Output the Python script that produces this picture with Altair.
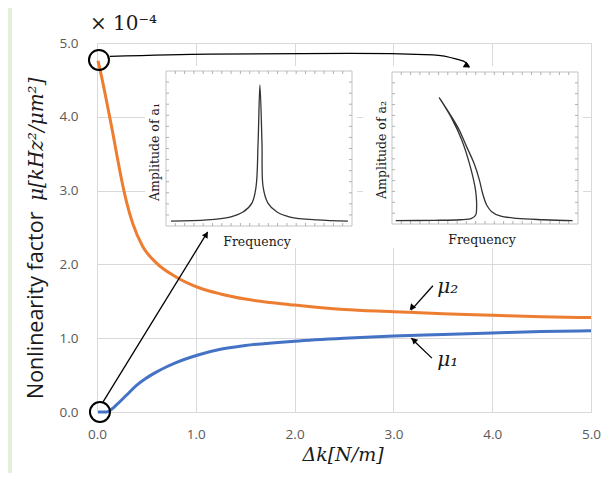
import altair as alt
import pandas as pd

# ---------------- data ----------------
dk_mu2 = [0.01, 0.05, 0.10, 0.15, 0.20, 0.25, 0.30, 0.36, 0.46, 0.60, 0.80, 1.04, 1.25, 1.50, 2.00, 2.50, 3.00, 3.50, 4.00, 4.50, 5.00]
mu2 = [4.76, 4.52, 4.19, 3.85, 3.49, 3.14, 2.84, 2.56, 2.25, 2.02, 1.83, 1.68, 1.60, 1.53, 1.45, 1.39, 1.36, 1.33, 1.31, 1.29, 1.28]
dk_mu1 = [0.01, 0.10, 0.15, 0.20, 0.30, 0.40, 0.50, 0.60, 0.70, 0.80, 1.04, 1.25, 1.50, 2.00, 2.50, 3.00, 3.50, 4.00, 4.50, 5.00]
mu1 = [0.00, 0.00, 0.04, 0.10, 0.23, 0.36, 0.46, 0.54, 0.61, 0.67, 0.78, 0.85, 0.90, 0.96, 1.00, 1.03, 1.05, 1.07, 1.09, 1.10]

axis_ticks = [0, 1, 2, 3, 4, 5]

# inset 1: linear resonance (frequency / amplitude, arbitrary units 0-10)
f1 = [0.27, 2.20, 3.44, 4.14, 4.62, 4.84, 4.95, 5.05, 5.16, 5.22, 5.48, 5.97, 6.67, 8.12, 9.78]
a1 = [0.32, 0.39, 0.58, 0.90, 1.48, 2.52, 5.35, 9.10, 5.35, 2.52, 1.48, 0.90, 0.58, 0.39, 0.32]
# inset 2: softening nonlinear resonance (traced as one path)
f2 = [0.20, 2.22, 3.66, 4.28, 4.50, 4.55, 4.53, 4.46, 4.16, 3.75, 3.21, 2.54,
      3.03, 3.57, 4.01, 4.41, 4.70, 4.87, 5.09, 5.36, 5.81, 6.70, 8.13, 9.71]
a2 = [0.22, 0.24, 0.28, 0.37, 0.59, 1.14, 1.80, 2.46, 3.99, 5.53, 6.95, 8.31,
      7.39, 6.29, 5.09, 3.99, 2.89, 2.02, 1.25, 0.81, 0.53, 0.37, 0.28, 0.22]

# annotations (in main-axis units)
circle_x = [0.02, 0.03]
circle_y = [4.77, 0.00]
arrow_id = ["top"] * 7 + ["bottom"] * 2 + ["m2"] * 2 + ["m1"] * 2
arrow_x = [0.13, 1.14, 2.56, 3.40, 3.64, 3.74, 3.77, 0.06, 1.12, 3.40, 3.18, 3.39, 3.18]
arrow_y = [4.82, 4.85, 4.86, 4.84, 4.78, 4.73, 4.67, 0.135, 2.44, 1.71, 1.38, 0.73, 1.00]
head_x = [3.745, 1.106, 3.185, 3.206]
head_y = [4.69, 2.405, 1.413, 0.974]
head_angle = [122, 32, 221, 315]
mu_labels = ["μ₂", "μ₁"]
mu_label_x = [3.55, 3.55]
mu_label_y = [1.69, 0.70]

# ---------------- layout ----------------
W, H = 494, 369
ORANGE, BLUE = "#ED7D31", "#4472C4"
GRID = "#d9d9d9"
LBL = "#595959"

curves = pd.DataFrame({
    "dk": dk_mu2 + dk_mu1,
    "mu": mu2 + mu1,
    "series": ["mu2"] * len(mu2) + ["mu1"] * len(mu1),
})

xs = alt.Scale(domain=[0, 5], nice=False, zero=False)
ys = alt.Scale(domain=[0, 5], nice=False, zero=False)

axis_common = dict(values=axis_ticks, format=".1f", grid=True, gridColor=GRID, gridWidth=1,
                   domain=False, ticks=False, tickSize=0, title=None, labelFlush=False,
                   labelColor=LBL, labelFontSize=13.5, labelFont="Open Sans")

lines = alt.Chart(curves).mark_line(strokeWidth=3, interpolate="monotone").encode(
    x=alt.X("dk:Q", scale=xs, axis=alt.Axis(labelPadding=15, **axis_common)),
    y=alt.Y("mu:Q", scale=ys, axis=alt.Axis(labelPadding=19, **axis_common)),
    color=alt.Color("series:N", scale=alt.Scale(domain=["mu2", "mu1"], range=[ORANGE, BLUE]), legend=None),
)

one = pd.DataFrame({"t": ["x"]})

green = alt.Chart(one).mark_rect(fill="#E2EFD9").encode(
    x=alt.value(-89), x2=alt.value(-85), y=alt.value(-35), y2=alt.value(430))

ytitle1 = alt.Chart(pd.DataFrame({"t": ["Nonlinearity factor"]})).mark_text(
    angle=270, align="left", baseline="middle", font="Open Sans", fontSize=21.5, color="#1a1a1a"
).encode(x=alt.value(-60), y=alt.value(356), text="t:N")
ytitle2 = alt.Chart(pd.DataFrame({"t": ["μ[kHz²/μm²]"]})).mark_text(
    angle=270, align="left", baseline="middle", font="DejaVu Serif", fontStyle="italic", fontSize=20, color="#1a1a1a"
).encode(x=alt.value(-60), y=alt.value(158), text="t:N")
exp_txt = alt.Chart(pd.DataFrame({"t": ["× 10⁻⁴"]})).mark_text(
    align="left", baseline="middle", font="DejaVu Serif", fontSize=20, color="#1a1a1a"
).encode(x=alt.value(-7), y=alt.value(-19), text="t:N")
xtitle = alt.Chart(pd.DataFrame({"t": ["Δk[N/m]"]})).mark_text(
    align="center", baseline="middle", font="DejaVu Serif", fontStyle="italic", fontSize=19, color="#1a1a1a"
).encode(x=alt.value(246), y=alt.value(412), text="t:N")

main = alt.layer(green, lines, ytitle1, ytitle2, exp_txt, xtitle)


def inset(fvals, avals, ylabel, box, bg, ypos, xpos):
    x0, y0, x1, y1 = box
    fs = alt.Scale(domain=[0, 10], range=[x0, x1], nice=False, zero=False)
    as_ = alt.Scale(domain=[0, 10], range=[y1, y0], nice=False, zero=False)
    bgrect = alt.Chart(one).mark_rect(fill="white").encode(
        x=alt.value(bg[0]), x2=alt.value(bg[2]), y=alt.value(bg[1]), y2=alt.value(bg[3]))
    frame = alt.Chart(one).mark_rect(fill="white", stroke="#c4c4c4", strokeWidth=1).encode(
        x=alt.value(x0), x2=alt.value(x1), y=alt.value(y0), y2=alt.value(y1))
    ftk = pd.DataFrame({"f": [i * 0.5 for i in range(1, 20)]})
    atk = pd.DataFrame({"a": [i * 10 / 14 for i in range(1, 14)]})
    tk = dict(color="#b0b0b0", strokeWidth=1)
    t_b = alt.Chart(ftk).mark_rule(**tk).encode(
        x=alt.X("f:Q", scale=fs, axis=None), y=alt.value(y1), y2=alt.value(y1 - 3))
    t_t = alt.Chart(ftk).mark_rule(**tk).encode(
        x=alt.X("f:Q", scale=fs, axis=None), y=alt.value(y0), y2=alt.value(y0 + 3))
    t_l = alt.Chart(atk).mark_rule(**tk).encode(
        y=alt.Y("a:Q", scale=as_, axis=None), x=alt.value(x0), x2=alt.value(x0 + 3))
    t_r = alt.Chart(atk).mark_rule(**tk).encode(
        y=alt.Y("a:Q", scale=as_, axis=None), x=alt.value(x1), x2=alt.value(x1 - 3))
    df = pd.DataFrame({"f": fvals, "a": avals, "i": list(range(len(fvals)))})
    curve = alt.Chart(df).mark_line(color="#333333", strokeWidth=1.3, interpolate="catmull-rom").encode(
        x=alt.X("f:Q", scale=fs, axis=None),
        y=alt.Y("a:Q", scale=as_, axis=None),
        order="i:Q",
    )
    ylab = alt.Chart(pd.DataFrame({"t": [ylabel]})).mark_text(
        angle=270, align="center", baseline="middle", font="DejaVu Serif", fontSize=12.5, color="#1a1a1a"
    ).encode(x=alt.value(ypos[0]), y=alt.value(ypos[1]), text="t:N")
    xlab = alt.Chart(pd.DataFrame({"t": ["Frequency"]})).mark_text(
        align="center", baseline="middle", font="DejaVu Serif", fontSize=12.5, color="#1a1a1a"
    ).encode(x=alt.value(xpos[0]), y=alt.value(xpos[1]), text="t:N")
    return alt.layer(bgrect, frame, t_b, t_t, t_l, t_r, curve, ylab, xlab)


inset1 = inset(f1, a1, "Amplitude of a₁", (69, 28, 255, 183), (48, 23, 260, 205), (58, 109), (160, 199))
inset2 = inset(f2, a2, "Amplitude of a₂", (295, 29, 481, 181), (266, 23, 486, 205), (285, 107), (385, 197))

# annotations on top (same units as the main axes)
axs = alt.Scale(domain=[0, 5], nice=False, zero=False)
ays = alt.Scale(domain=[0, 5], nice=False, zero=False)

circ = alt.Chart(pd.DataFrame({"x": circle_x, "y": circle_y})).mark_point(
    shape="circle", size=400, filled=False, stroke="black", strokeWidth=2, opacity=1
).encode(x=alt.X("x:Q", scale=axs, axis=None), y=alt.Y("y:Q", scale=ays, axis=None))

arr_df = pd.DataFrame({"x": arrow_x, "y": arrow_y, "id": arrow_id, "o": list(range(len(arrow_x)))})
arr = alt.Chart(arr_df).mark_line(color="black", strokeWidth=1.3, interpolate="monotone").encode(
    x=alt.X("x:Q", scale=axs, axis=None), y=alt.Y("y:Q", scale=ays, axis=None),
    detail="id:N", order="o:Q")

heads = alt.Chart(pd.DataFrame({"x": head_x, "y": head_y, "ang": head_angle})).mark_point(
    shape="triangle-up", filled=True, color="black", size=45, opacity=1
).encode(x=alt.X("x:Q", scale=axs, axis=None), y=alt.Y("y:Q", scale=ays, axis=None),
         angle=alt.Angle("ang:Q", scale=None))

mulab = alt.Chart(pd.DataFrame({"x": mu_label_x, "y": mu_label_y, "t": mu_labels})).mark_text(
    font="DejaVu Serif", fontStyle="italic", fontSize=20, color="#1a1a1a", align="center", baseline="middle"
).encode(x=alt.X("x:Q", scale=axs, axis=None), y=alt.Y("y:Q", scale=ays, axis=None), text="t:N")

annot = alt.layer(circ, arr, heads, mulab)

chart = alt.layer(main, inset1, inset2, annot).resolve_scale(
    x="independent", y="independent", color="independent"
).properties(
    width=W, height=H,
    autosize=alt.AutoSizeParams(type="none"),
    padding={"left": 89, "top": 35, "right": 17, "bottom": 61},
    background="white",
).configure_view(stroke=GRID, strokeWidth=1)

chart.save("out.html", embed_options={"renderer": "svg", "actions": False})
